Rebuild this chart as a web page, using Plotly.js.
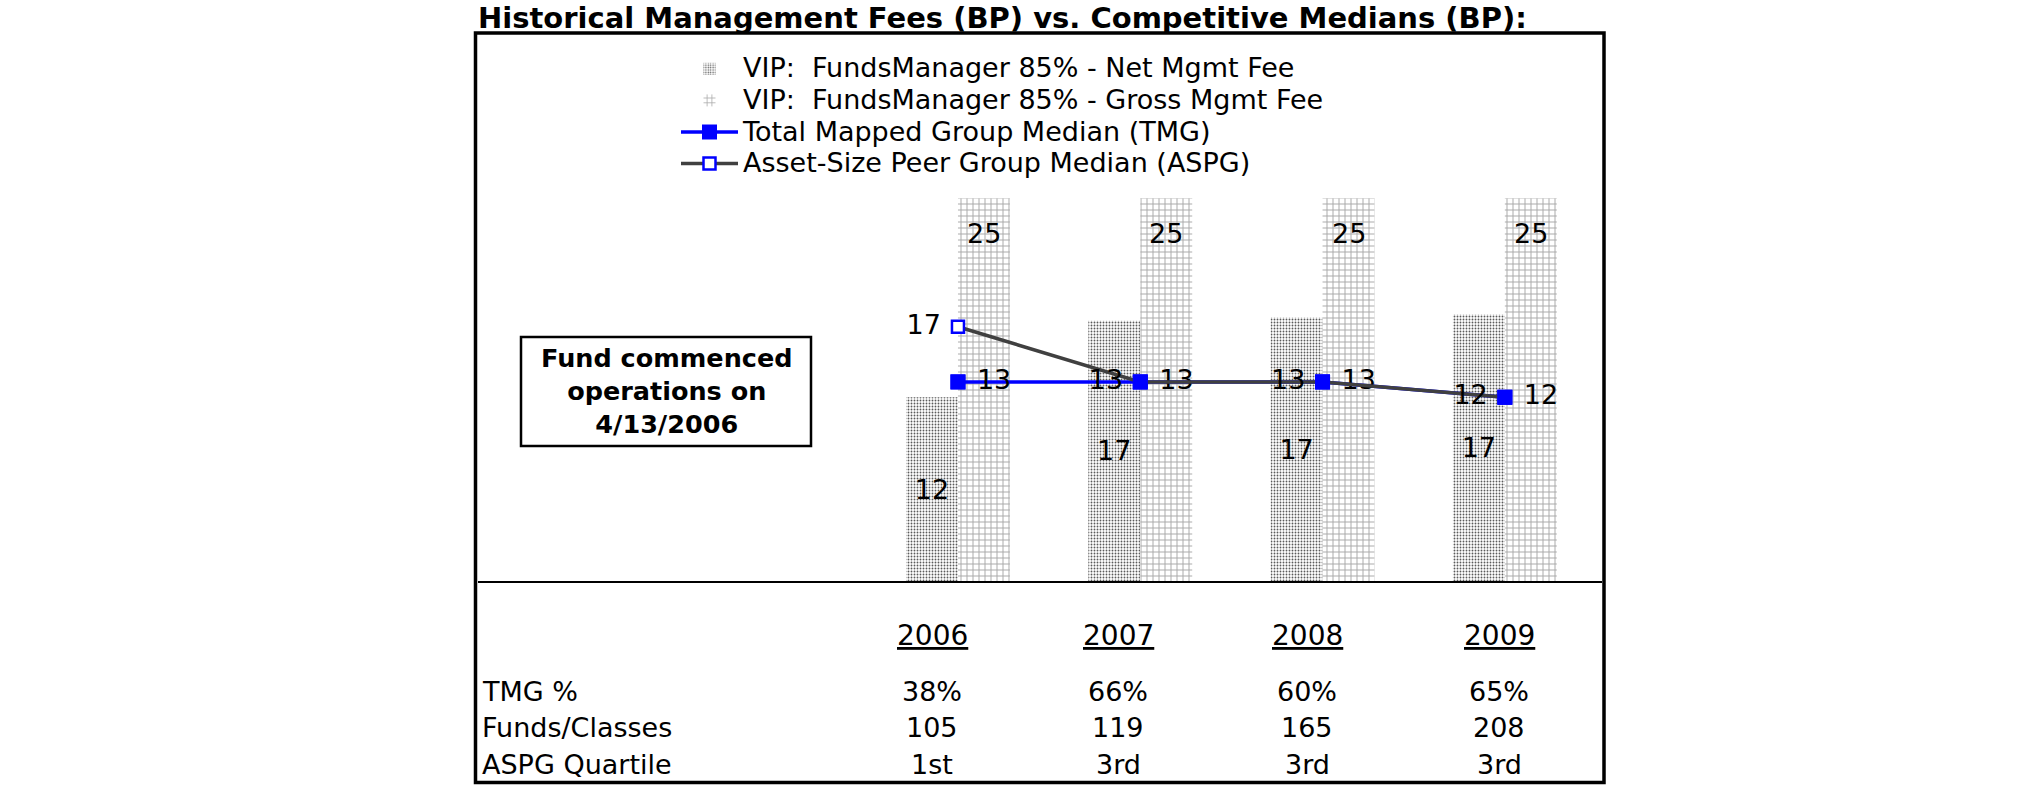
<!DOCTYPE html>
<html><head><meta charset="utf-8">
<script src="https://cdn.plot.ly/plotly-3.0.1.min.js"></script>
<style>html,body{margin:0;padding:0;background:#fff}#chart{width:2025px;height:806px}</style>
</head><body><div id="chart"></div>
<script>
// ---- data ----
const years = ['2006', '2007', '2008', '2009'];
const netFee = [12, 17, 17.2, 17.4];
const grossFee = [25, 25, 25, 25];
const tmgMedian = [13, 13, 13, 12];
const aspgMedian = [16.6, 13, 13, 12];
const rowLabels = ['TMG %', 'Funds/Classes', 'ASPG Quartile'];
const tmgPct = ['38%', '66%', '60%', '65%'];
const fundsClasses = ['105', '119', '165', '208'];
const aspgQuartile = ['1st', '3rd', '3rd', '3rd'];
const seriesNames = [
  'VIP:\u00a0\u00a0FundsManager 85% - Net Mgmt Fee',
  'VIP:\u00a0\u00a0FundsManager 85% - Gross Mgmt Fee',
  'Total Mapped Group Median (TMG)',
  'Asset-Size Peer Group Median (ASPG)'
];
const titleText = 'Historical Management Fees (BP) vs. Competitive Medians (BP):';
const noteText = 'Fund commenced<br>operations on<br>4/13/2006';

// ---- layout geometry (pixels) ----
const FONT = '"DejaVu Sans", Verdana, sans-serif';
const L = 478, R = 1602, T = 45, B = 581;
const px = x => (x - L) / (R - L);
const py = y => (B - y) / (B - T);
const xRange = [-2.633, 3.533];
const yRange = [0, 35];
const bargap = 0.43;
const catPx = (R - L) / (xRange[1] - xRange[0]);
const barPx = catPx * (1 - bargap) / 2;
const colX = [932, 1118, 1307, 1499];
const rowY = [691, 727, 765];
const yearRowY = 635;
const big = s => '<span style="font-size:27px">' + s + '</span>';

const traces = [
  {
    type: 'bar', x: years, y: netFee, name: big(seriesNames[0]),
    marker: {color: '#ffffff', line: {width: 0},
      pattern: {shape: '.', fgcolor: '#5a5a5a', bgcolor: '#ffffff', size: 3, solidity: 0.3, fillmode: 'replace'}},
    texttemplate: '%{y:.0f}', textposition: 'inside', insidetextanchor: 'middle',
    insidetextfont: {family: FONT, size: 27, color: '#000'}, constraintext: 'none'
  },
  {
    type: 'bar', x: years, y: grossFee, name: big(seriesNames[1]),
    marker: {color: '#ffffff', line: {width: 0},
      pattern: {shape: '+', fgcolor: '#a9a9a9', bgcolor: '#ffffff', size: 6, solidity: 0.3, fillmode: 'replace'}}
  },
  {
    type: 'scatter', mode: 'lines+markers+text', x: years, y: tmgMedian, name: big(seriesNames[2]),
    line: {color: '#0000ff', width: 3.5},
    marker: {symbol: 'square', size: 15, color: '#0000ff'},
    texttemplate: '\u00a0%{y:.0f}', textposition: 'middle right',
    textfont: {family: FONT, size: 27, color: '#000'}, cliponaxis: false
  },
  {
    type: 'scatter', mode: 'lines+markers+text', x: years, y: aspgMedian, name: big(seriesNames[3]),
    line: {color: '#404040', width: 3.5},
    marker: {symbol: 'square', size: 12, color: '#ffffff', line: {color: '#0000ff', width: 2.5}},
    texttemplate: '%{y:.0f}\u00a0', textposition: 'middle left',
    textfont: {family: FONT, size: 27, color: '#000'}, cliponaxis: false
  },
  {
    type: 'scatter', mode: 'markers', x: years, y: tmgMedian, showlegend: false, hoverinfo: 'skip',
    marker: {symbol: 'square', size: 15, color: '#0000ff'}, cliponaxis: false
  }
];

const annotations = [];
// gross bar value labels near the top of each bar (x = category index)
years.forEach((yr, i) => annotations.push({
  xref: 'x', yref: 'y', x: i, y: grossFee[i], text: String(grossFee[i]),
  showarrow: false, yanchor: 'top', xanchor: 'center', yshift: -18, xshift: barPx / 2,
  font: {family: FONT, size: 27, color: '#000'}
}));
// note box text
annotations.push({
  xref: 'paper', yref: 'paper', x: px(666), y: py(391), text: noteText,
  showarrow: false, xanchor: 'center', yanchor: 'middle', align: 'center',
  font: {family: FONT, size: 25.5, color: '#000', weight: 700}
});
// table header (years)
years.forEach((yr, i) => annotations.push({
  xref: 'paper', yref: 'paper', x: px(colX[i]), y: py(yearRowY),
  text: '<span style="text-decoration:underline">' + yr + '</span>',
  showarrow: false, xanchor: 'center', yanchor: 'middle',
  font: {family: FONT, size: 28, color: '#000'}
}));
// table rows
const rows = [tmgPct, fundsClasses, aspgQuartile];
rows.forEach((row, r) => {
  annotations.push({
    xref: 'paper', yref: 'paper', x: px(480), y: py(rowY[r]), text: rowLabels[r],
    showarrow: false, xanchor: 'left', yanchor: 'middle',
    font: {family: FONT, size: 27, color: '#000'}
  });
  row.forEach((v, i) => annotations.push({
    xref: 'paper', yref: 'paper', x: px(colX[i]), y: py(rowY[r]), text: v,
    showarrow: false, xanchor: 'center', yanchor: 'middle',
    font: {family: FONT, size: 27, color: '#000'}
  }));
});

const shapes = [
  {type: 'rect', xref: 'paper', yref: 'paper', x0: px(475.5), x1: px(1604), y0: py(782.5), y1: py(33),
   line: {color: '#000', width: 3.5}, fillcolor: 'rgba(0,0,0,0)', layer: 'above'},
  {type: 'rect', xref: 'paper', yref: 'paper', x0: px(521), x1: px(811), y0: py(446), y1: py(337),
   line: {color: '#000', width: 2.5}, fillcolor: 'rgba(0,0,0,0)', layer: 'above'}
];

const layout = {
  width: 2025, height: 806,
  paper_bgcolor: '#ffffff', plot_bgcolor: '#ffffff',
  margin: {l: L, r: 2025 - R, t: T, b: 806 - B, pad: 0},
  font: {family: FONT, size: 27, color: '#000'},
  title: {text: titleText, xref: 'container', yref: 'container', x: 478 / 2025, xanchor: 'left',
    y: 1 - 18 / 806, yanchor: 'middle', font: {family: FONT, size: 29, weight: 700, color: '#000'}},
  barmode: 'group', bargap: bargap, bargroupgap: 0,
  xaxis: {type: 'category', range: xRange, showticklabels: false, ticks: '', showgrid: false,
    zeroline: false, showline: true, linecolor: '#000', linewidth: 1.5, fixedrange: true},
  yaxis: {range: yRange, visible: false, showgrid: false, zeroline: false, fixedrange: true},
  showlegend: true,
  legend: {x: px(676), y: py(48), xanchor: 'left', yanchor: 'top', bgcolor: 'rgba(0,0,0,0)',
    borderwidth: 0, itemwidth: 57, traceorder: 'normal', font: {family: FONT, size: 22, color: '#000'},
    itemclick: false, itemdoubleclick: false},
  annotations: annotations,
  shapes: shapes
};

Plotly.newPlot('chart', traces, layout, {displayModeBar: false, staticPlot: true});
</script>
</body></html>
